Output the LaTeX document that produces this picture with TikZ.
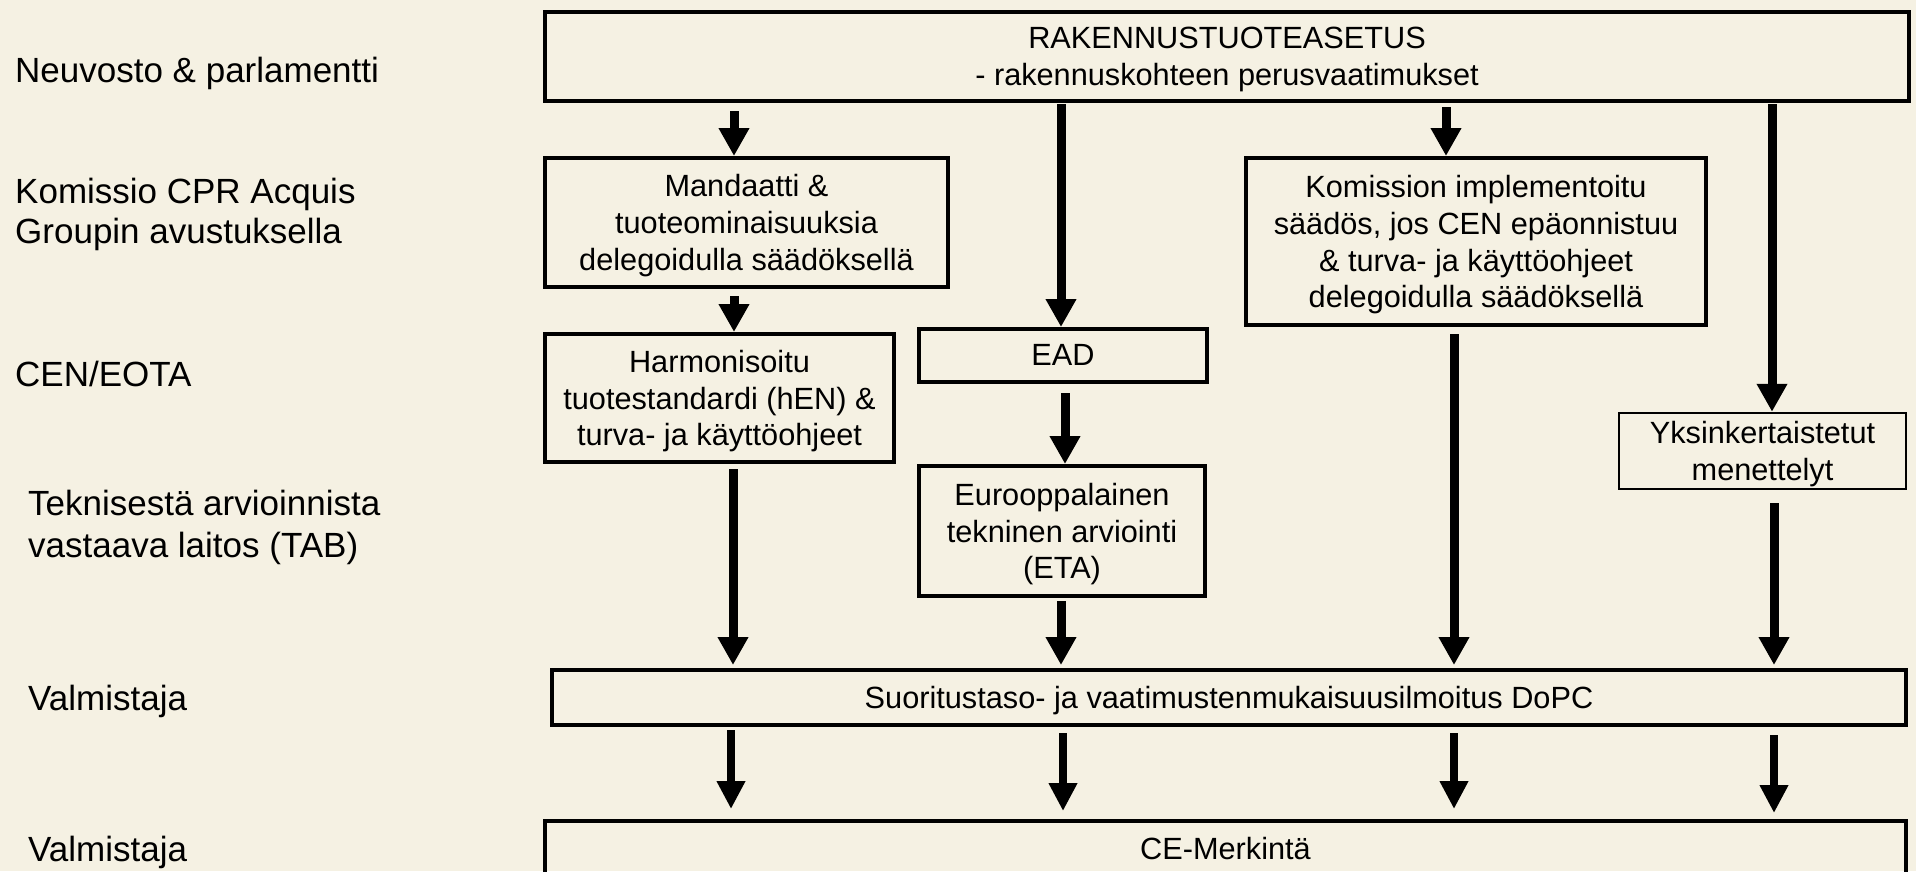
\documentclass[tikz,border=0pt]{standalone}
\usepackage{fontspec}
\setmainfont{Liberation Sans}
\usetikzlibrary{arrows.meta}
\definecolor{bgcol}{RGB}{245,241,227}
\newcommand{\boxfont}{\fontsize{30.7}{36.8}\selectfont}
\newcommand{\lblfont}{\fontsize{35}{40}\selectfont}
\begin{document}
\begin{tikzpicture}[x=1pt,y=-1pt,
  boxnode/.style={draw=black,line width=4pt,inner sep=0pt,align=center,font=\boxfont,rectangle,text depth=-2pt},
  lbl/.style={anchor=west,align=left,font=\lblfont,inner sep=0pt},
  farrow/.style={line width=9pt,-{Triangle[width=29pt,length=28pt]}},
  sarrow/.style={line width=8pt,-{Triangle[width=27pt,length=28pt]}}]
\fill[bgcol] (0,0) rectangle (1916,871);
\useasboundingbox (0,0) rectangle (1916,871);

% left labels
\node[lbl] (l1) at (15,73) {Neuvosto \& parlamentti};
\node[lbl] (l2) at (15,214) {Komissio CPR Acquis\\Groupin avustuksella};
\node[lbl] (l3) at (15,374) {CEN/EOTA};
\node[lbl,font=\fontsize{35}{42}\selectfont] (l4) at (28,527) {Teknisestä arvioinnista\\vastaava laitos (TAB)};
\node[lbl] (l5) at (28,701) {Valmistaja};
\node[lbl] (l6) at (28,852) {Valmistaja};

% boxes
\node[boxnode,text depth=-3pt,minimum width=1364pt,minimum height=89pt] (top) at (1227,56.5)
  {RAKENNUSTUOTEASETUS\\- rakennuskohteen perusvaatimukset};
\node[boxnode,text depth=-8pt,minimum width=403pt,minimum height=129pt] (mand) at (746.5,222.5)
  {Mandaatti \&\\tuoteominaisuuksia\\delegoidulla säädöksellä};
\node[boxnode,minimum width=349pt,minimum height=128pt] (harm) at (719.5,398)
  {Harmonisoitu\\tuotestandardi (hEN) \&\\turva- ja käyttöohjeet};
\node[boxnode,text depth=1.5pt,minimum width=288pt,minimum height=53pt] (ead) at (1063,355.5) {EAD};
\node[boxnode,text depth=-8pt,minimum width=286pt,minimum height=130pt] (euro) at (1062,531)
  {Eurooppalainen\\tekninen arviointi\\(ETA)};
\node[boxnode,text depth=-1pt,minimum width=460pt,minimum height=167pt] (kom) at (1476,241.5)
  {Komission implementoitu\\säädös, jos CEN epäonnistuu\\\& turva- ja käyttöohjeet\\delegoidulla säädöksellä};
\node[boxnode,text depth=-0.5pt,line width=2.5pt,minimum width=287pt,minimum height=76pt] (yks) at (1762.5,451)
  {Yksinkertaistetut\\menettelyt};
\node[boxnode,text depth=-1pt,minimum width=1354pt,minimum height=55pt] (suor) at (1229,697.5)
  {Suoritustaso- ja vaatimustenmukaisuusilmoitus DoPC};
\node[boxnode,text depth=4pt,minimum width=1361pt,minimum height=59pt] (ce) at (1225.5,850.5)
  {CE-Merkintä};

% column coordinates
\coordinate (cA) at (734,0);
\coordinate (cB) at (1061,0);
\coordinate (cB2) at (1065,0);
\coordinate (cC) at (1446,0);
\coordinate (cC2) at (1454,0);
\coordinate (cD) at (1772,0);
\coordinate (cD2) at (1774,0);
\coordinate (cA2) at (733,0);
\coordinate (cA3) at (731,0);
\coordinate (cB3) at (1063,0);

% arrows from top
\draw[farrow] ([yshift=-8pt]top.south -| cA) -- (mand.north -| cA);
\draw[farrow] ([yshift=-1pt]top.south -| cB) -- (ead.north -| cB);
\draw[farrow] ([yshift=-4pt]top.south -| cC) -- (kom.north -| cC);
\draw[farrow] ([yshift=-1pt]top.south -| cD) -- (yks.north -| cD);
% second level
\draw[farrow] ([yshift=-7pt]mand.south -| cA) -- (harm.north -| cA);
\draw[farrow] ([yshift=-9pt]ead.south -| cB2) -- (euro.north -| cB2);
% to DoPC
\draw[farrow] ([yshift=-5pt]harm.south -| cA2) -- ([yshift=3pt]suor.north -| cA2);
\draw[farrow] ([yshift=-3pt]euro.south -| cB) -- ([yshift=3pt]suor.north -| cB);
\draw[farrow] ([yshift=-7pt]kom.south -| cC2) -- ([yshift=3pt]suor.north -| cC2);
\draw[farrow] ([yshift=-13pt]yks.south -| cD2) -- ([yshift=3pt]suor.north -| cD2);
% to CE
\draw[sarrow] ([yshift=-3pt]suor.south -| cA3) -- ([yshift=10pt]ce.north -| cA3);
\draw[sarrow] ([yshift=-6pt]suor.south -| cB3) -- ([yshift=8pt]ce.north -| cB3);
\draw[sarrow] ([yshift=-6pt]suor.south -| cC2) -- ([yshift=10pt]ce.north -| cC2);
\draw[sarrow] ([yshift=-8pt]suor.south -| cD2) -- ([yshift=6pt]ce.north -| cD2);
\end{tikzpicture}
\end{document}
